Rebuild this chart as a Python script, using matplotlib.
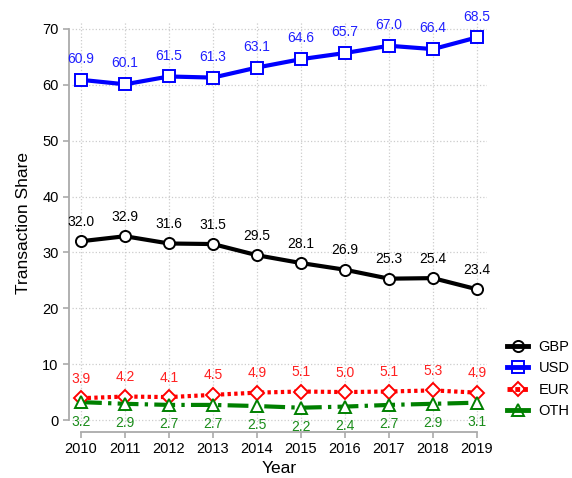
import numpy as np
import matplotlib
matplotlib.use('Agg')
import matplotlib.pyplot as plt
from matplotlib.lines import Line2D

plt.rcParams['font.family'] = ['Liberation Sans', 'DejaVu Sans']

years = [2010, 2011, 2012, 2013, 2014, 2015, 2016, 2017, 2018, 2019]
gbp = [32.0, 32.9, 31.6, 31.5, 29.5, 28.1, 26.9, 25.3, 25.4, 23.4]
usd = [60.9, 60.1, 61.5, 61.3, 63.1, 64.6, 65.7, 67.0, 66.4, 68.5]
eur = [3.9, 4.2, 4.1, 4.5, 4.9, 5.1, 5.0, 5.1, 5.3, 4.9]
oth = [3.2, 2.9, 2.7, 2.7, 2.5, 2.2, 2.4, 2.7, 2.9, 3.1]
yticks = [0, 10, 20, 30, 40, 50, 60, 70]

fig = plt.figure(figsize=(5.72, 4.78), dpi=100)
# axes box in pixels: x 72..487, y 22..425
ax = fig.add_axes([72/572, 1-425/478, 415/572, 403/478])

# series: name, values, colour, text colour, marker, linestyle, label offset
series = [
    ('GBP', gbp, 'black', 'black', 'o', '-', 14),
    ('USD', usd, '#0000ff', '#2020ff', 's', '-', 15),
    ('EUR', eur, '#ff0000', '#ff2020', 'D', (0, (0.8, 0.8)), 14),
    ('OTH', oth, '#008000', '#1a8c1a', '^', (0, (5, 1.5, 0.8, 1.5)), -14),
]

handles = []
for name, vals, col, tcol, mk, ls, off in series:
    ax.plot(years, vals, color=col, lw=3, ls=ls, zorder=3)
    ms = 7 if mk == 'D' else 8
    ax.plot(years, vals, ls='none', marker=mk, ms=ms, mfc='white', mec=col,
            mew=1.4, zorder=4)
    for x, v in zip(years, vals):
        ax.annotate(f'{v:.1f}', (x, v), xytext=(0, off), textcoords='offset points',
                    ha='center', va='center', fontsize=10, color=tcol)
    lls = (0, (1, 0.6)) if name == 'EUR' else '-'
    handles.append(Line2D([0], [0], color=col, lw=3.5, ls=lls, marker=mk, ms=ms,
                          mfc='none', mec=col, mew=1.4))

ax.set_xlim(2010 - 9/44, 2019 + 10/44)
ax.set_ylim(-5*70/391, 70 + 7*70/391)
ax.set_xticks(years)
ax.set_yticks(yticks)
ax.grid(True, ls=':', color='#cccccc', lw=0.9)
ax.set_axisbelow(True)

for s in ['top', 'right']:
    ax.spines[s].set_visible(False)
ax.spines['left'].set_position(('outward', 2.2))
ax.spines['bottom'].set_position(('outward', 5))
ax.spines['left'].set_bounds(0, 70)
ax.spines['bottom'].set_bounds(2010, 2019)
for s in ['left', 'bottom']:
    ax.spines[s].set_color('#aaaaaa')
    ax.spines[s].set_linewidth(1.3)
ax.tick_params(colors='#aaaaaa', labelcolor='black', labelsize=10.5, length=4, width=1.2)

ax.set_xlabel('Year', fontsize=12.5, labelpad=3)
ax.set_ylabel('Transaction Share', fontsize=12.5, labelpad=8)

fig.legend(handles, [s[0] for s in series], loc='upper left',
           bbox_to_anchor=(494/572, 1-327/478), frameon=False, fontsize=10.5,
           handlelength=1.45, labelspacing=0.5, handletextpad=0.7)

fig.savefig('out.png', dpi=100)
